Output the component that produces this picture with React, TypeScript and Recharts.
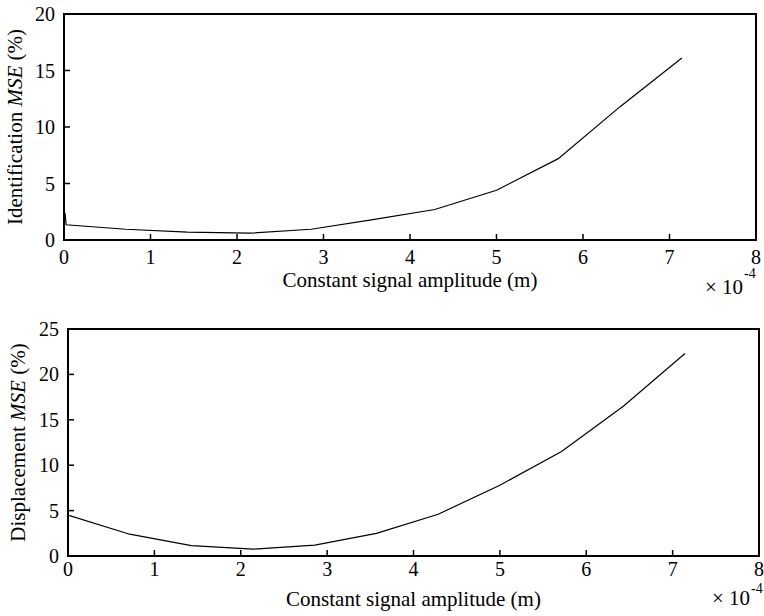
import React from "react";
import { LineChart, Line, XAxis, YAxis, ReferenceArea, Label } from "recharts";

// x in units of 1e-4 m
const topX = [0.012, 0.024, 0.714, 1.429, 2.143, 2.857, 3.571, 4.286, 5.0, 5.714, 6.429, 7.143];
const topY = [2.4, 1.35, 0.95, 0.7, 0.6, 0.95, 1.8, 2.7, 4.4, 7.2, 11.8, 16.1];

const botX = [0, 0.714, 1.429, 2.143, 2.857, 3.571, 4.286, 5.0, 5.714, 6.429, 7.143];
const botY = [4.5, 2.4, 1.15, 0.75, 1.2, 2.5, 4.6, 7.8, 11.5, 16.5, 22.3];

const xTicks = [0, 1, 2, 3, 4, 5, 6, 7, 8];
const topYTicks = [0, 5, 10, 15, 20];
const botYTicks = [0, 5, 10, 15, 20, 25];

const xLabelText = "Constant signal amplitude (m)";
const topYLabel = ["Identification ", "MSE", " (%)"];
const botYLabel = ["Displacement ", "MSE", " (%)"];

const FONT = "'Liberation Serif', 'Times New Roman', serif";
const FS = 20;
const LFS = 21;

const topData = topX.map((x, i) => ({ x, y: topY[i] }));
const botData = botX.map((x, i) => ({ x, y: botY[i] }));

function XLab(labelY: number, expY: number, supDy: number, expRight: number) {
  return (props: any) => {
    const vb = props.viewBox || {};
    const cx = vb.x + vb.width / 2;
    const right = vb.x + vb.width;
    return (
      <g fill="#000">
        <text x={cx} y={vb.y + labelY} textAnchor="middle" dominantBaseline="central" fontSize={LFS} fontFamily={FONT}>
          {xLabelText}
        </text>
        <text x={right - expRight} y={vb.y + expY} textAnchor="end" dominantBaseline="central" fontSize={LFS} fontFamily={FONT}>
          {"\u00d7 10"}
        </text>
        <text x={right - expRight + 1} y={vb.y + expY + supDy} textAnchor="start" dominantBaseline="central" fontSize={14} fontFamily={FONT}>
          {"-4"}
        </text>
      </g>
    );
  };
}

function YLab(parts: string[], cxPos: number) {
  return (props: any) => {
    const vb = props.viewBox || {};
    const cy = vb.y + vb.height / 2;
    return (
      <text
        x={cxPos}
        y={cy}
        transform={`rotate(-90, ${cxPos}, ${cy})`}
        textAnchor="middle"
        dominantBaseline="central"
        fontFamily={FONT}
        fontSize={LFS}
        fill="#000"
      >
        {parts[0]}
        <tspan fontStyle="italic">{parts[1]}</tspan>
        {parts[2]}
      </text>
    );
  };
}

const XTick = (props: any) => (
  <text x={props.x} y={props.y} textAnchor="middle" dominantBaseline="central" fontFamily={FONT} fontSize={FS} fill="#000">
    {props.payload.value}
  </text>
);

const YTick = (props: any) => (
  <text x={props.x} y={props.y} textAnchor="end" dominantBaseline="central" fontFamily={FONT} fontSize={FS} fill="#000">
    {props.payload.value}
  </text>
);

const axisLine = { stroke: "#000", strokeWidth: 2 };
const tickLine = { stroke: "#000", strokeWidth: 1.5 };

export default function App() {
  return (
    <div style={{ position: "absolute", left: 0, top: 0, width: 764, height: 616, background: "#fff" }}>
      <div style={{ position: "absolute", left: 0, top: 0 }}>
        <LineChart width={764} height={300} data={topData} margin={{ top: 14, right: 8, left: 0, bottom: 0 }}>
          <XAxis
            dataKey="x"
            type="number"
            domain={[0, 8]}
            ticks={xTicks}
            interval={0}
            height={60}
            tickSize={-6}
            tickMargin={23}
            tick={XTick}
            axisLine={axisLine}
            tickLine={tickLine}
            allowDataOverflow
          >
            <Label content={XLab(40, 47, -14, 13)} />
          </XAxis>
          <YAxis
            type="number"
            domain={[0, 20]}
            ticks={topYTicks}
            interval={0}
            width={64}
            tickSize={-6}
            tickMargin={15}
            tick={YTick}
            axisLine={axisLine}
            tickLine={tickLine}
          >
            <Label content={YLab(topYLabel, 15)} />
          </YAxis>
          <ReferenceArea x1={0} x2={8} y1={0} y2={20} fill="none" stroke="#000" strokeWidth={2} ifOverflow="visible" />
          <Line dataKey="y" type="linear" stroke="#000" strokeWidth={1.2} dot={false} isAnimationActive={false} />
        </LineChart>
      </div>
      <div style={{ position: "absolute", left: 0, top: 300 }}>
        <LineChart width={764} height={316} data={botData} margin={{ top: 29, right: 5, left: 0, bottom: 0 }}>
          <XAxis
            dataKey="x"
            type="number"
            domain={[0, 8]}
            ticks={xTicks}
            interval={0}
            height={60}
            tickSize={-6}
            tickMargin={19}
            tick={XTick}
            axisLine={axisLine}
            tickLine={tickLine}
          >
            <Label content={XLab(42.5, 42, -10, 9)} />
          </XAxis>
          <YAxis
            type="number"
            domain={[0, 25]}
            ticks={botYTicks}
            interval={0}
            width={68}
            tickSize={-6}
            tickMargin={15}
            tick={YTick}
            axisLine={axisLine}
            tickLine={tickLine}
          >
            <Label content={YLab(botYLabel, 18)} />
          </YAxis>
          <ReferenceArea x1={0} x2={8} y1={0} y2={25} fill="none" stroke="#000" strokeWidth={2} ifOverflow="visible" />
          <Line dataKey="y" type="linear" stroke="#000" strokeWidth={1.2} dot={false} isAnimationActive={false} />
        </LineChart>
      </div>
    </div>
  );
}
